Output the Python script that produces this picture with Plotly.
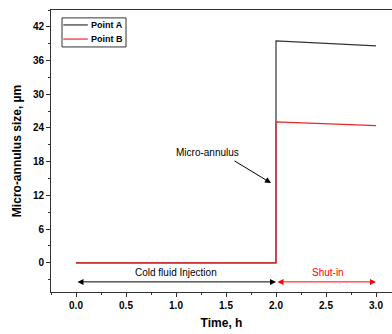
import plotly.graph_objects as go

time_a = [0, 2, 2, 3]
point_a = [0, 0, 39.5, 38.6]
time_b = [0, 2, 2, 3]
point_b = [0, 0, 25.1, 24.4]
series_names = ["Point A", "Point B"]
series_colors = ["#333333", "#e8262a"]
x_ticks = [0.0, 0.5, 1.0, 1.5, 2.0, 2.5, 3.0]
y_ticks = [0, 6, 12, 18, 24, 30, 36, 42]

fig = go.Figure()
fig.add_trace(go.Scatter(x=time_a, y=point_a, mode="lines", name=series_names[0],
                         line=dict(color=series_colors[0], width=1.2), showlegend=False))
fig.add_trace(go.Scatter(x=time_b, y=point_b, mode="lines", name=series_names[1],
                         line=dict(color=series_colors[1], width=1.2), showlegend=False))

# compact legend (paper coordinates)
fig.add_shape(type="rect", xref="paper", yref="paper", x0=0.0323, x1=0.22, y0=0.869, y1=0.972,
              line=dict(color="#333333", width=1), fillcolor="white", layer="above")
for i, (nm, col) in enumerate(zip(series_names, series_colors)):
    yy = 0.947 - i * 0.05
    fig.add_shape(type="line", xref="paper", yref="paper", x0=0.036, x1=0.108, y0=yy, y1=yy,
                  line=dict(color=col, width=1.2), layer="above")
    fig.add_annotation(xref="paper", yref="paper", x=0.111, y=yy, xanchor="left", yanchor="middle",
                       text=f"<b>{nm}</b>", showarrow=False,
                       font=dict(family="Liberation Sans", size=9, color="black"))

# double arrows
arrow_y = -3.4
fig.add_annotation(x=2.0, y=arrow_y, ax=0.0, ay=arrow_y, xref="x", yref="y", axref="x", ayref="y",
                   text="", showarrow=True, arrowside="end+start", arrowhead=2, arrowsize=1.2,
                   arrowwidth=1, arrowcolor="black")
fig.add_annotation(x=3.0, y=arrow_y, ax=2.0, ay=arrow_y, xref="x", yref="y", axref="x", ayref="y",
                   text="", showarrow=True, arrowside="end+start", arrowhead=2, arrowsize=1.2,
                   arrowwidth=1, arrowcolor="red")
fig.add_annotation(x=1.0, y=-1.8, text="Cold fluid Injection", showarrow=False,
                   font=dict(family="Liberation Sans", size=10, color="black"))
fig.add_annotation(x=2.52, y=-1.8, text="Shut-in", showarrow=False,
                   font=dict(family="Liberation Sans", size=10, color="red"))
fig.add_annotation(x=1.95, y=14.2, ax=1.57, ay=18.3, xref="x", yref="y", axref="x", ayref="y",
                   text="", showarrow=True, arrowhead=2, arrowsize=1.2, arrowwidth=1, arrowcolor="black")
fig.add_annotation(x=1.31, y=19.6, text="Micro-annulus", showarrow=False,
                   font=dict(family="Liberation Sans", size=10, color="black"))

fig.update_layout(
    width=392, height=334,
    margin=dict(l=51, r=0, t=10, b=42),
    paper_bgcolor="white", plot_bgcolor="white",
    showlegend=False,
)
fig.update_xaxes(range=[-0.25, 3.16], tickvals=x_ticks, ticktext=[f"{v:.1f}" for v in x_ticks],
                 showgrid=False, zeroline=False, showline=True, linecolor="#333333", linewidth=1,
                 mirror=True, ticks="outside", ticklen=4, tickcolor="#333333",
                 minor=dict(dtick=0.25, ticks="outside", ticklen=2, tickcolor="#333333"),
                 tickfont=dict(family="Liberation Sans", size=10, color="black", weight="bold"),
                 title=dict(text="<b>Time, h</b>", font=dict(family="Liberation Sans", size=12, color="black"),
                            standoff=8))
fig.update_yaxes(range=[-5.2, 45], tickvals=y_ticks,
                 showgrid=False, zeroline=False, showline=True, linecolor="#333333", linewidth=1,
                 ticks="outside", ticklen=4, tickcolor="#333333",
                 minor=dict(dtick=3, ticks="outside", ticklen=2, tickcolor="#333333"),
                 tickfont=dict(family="Liberation Sans", size=10, color="black", weight="bold"),
                 title=dict(text="<b>Micro-annulus size, µm</b>",
                            font=dict(family="Liberation Sans", size=12, color="black"), standoff=8))

fig.write_html("out.html", config={"displayModeBar": False},
               post_script="document.body.style.margin='0';document.body.style.overflow='hidden';")
